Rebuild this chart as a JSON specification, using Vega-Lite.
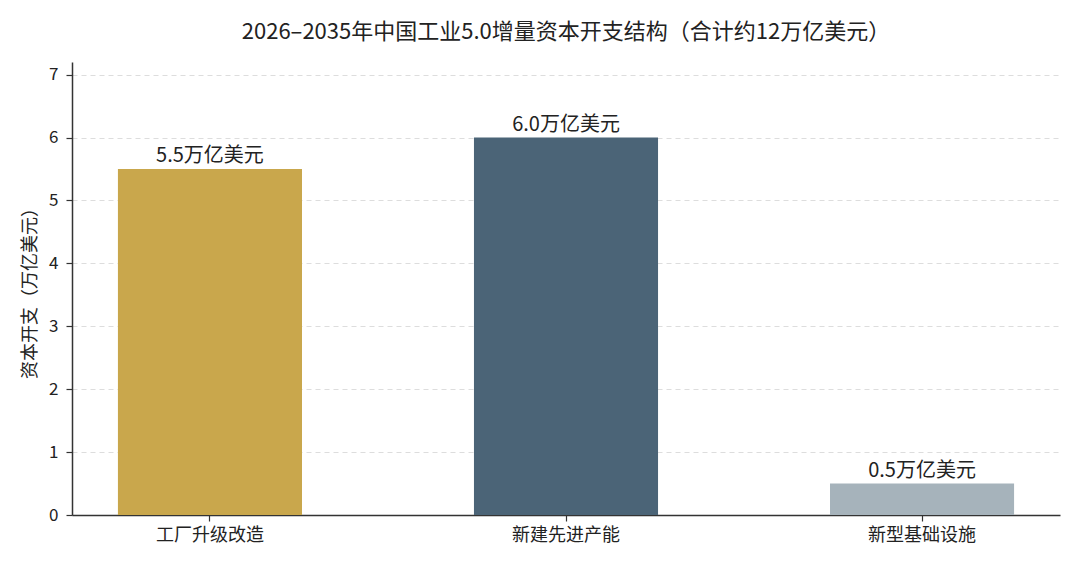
{
  "$schema": "https://vega.github.io/schema/vega-lite/v6.json",
  "autosize": {"type": "none"},
  "padding": {"left": 72, "top": 62, "right": 20, "bottom": 52},
  "width": 988,
  "height": 453,
  "background": "white",
  "title": {
    "text": "2026–2035年中国工业5.0增量资本开支结构（合计约12万亿美元）",
    "font": "Noto Sans CJK SC",
    "fontSize": 22,
    "fontWeight": "normal",
    "color": "#222222",
    "anchor": "middle",
    "frame": "group",
    "offset": 18
  },
  "config": {
    "font": "Noto Sans CJK SC",
    "view": {"stroke": null},
    "axis": {
      "domainColor": "#333333",
      "domainWidth": 1.5,
      "tickColor": "#333333",
      "tickWidth": 1.2,
      "tickSize": 6,
      "labelFont": "Noto Sans CJK SC",
      "labelFontSize": 17,
      "labelColor": "#222222",
      "titleFont": "Noto Sans CJK SC",
      "titleFontSize": 18,
      "titleFontWeight": "normal",
      "titleColor": "#222222"
    }
  },
  "data": {
    "values": [
      {"category": "工厂升级改造", "value": 5.5, "label": "5.5万亿美元"},
      {"category": "新建先进产能", "value": 6.0, "label": "6.0万亿美元"},
      {"category": "新型基础设施", "value": 0.5, "label": "0.5万亿美元"}
    ]
  },
  "encoding": {
    "x": {
      "field": "category",
      "type": "nominal",
      "sort": null,
      "title": null,
      "scale": {"paddingInner": 0.483, "paddingOuter": 0.129},
      "axis": {"labelAngle": 0, "labelPadding": 5, "labelFontSize": 18, "grid": false}
    },
    "y": {
      "field": "value",
      "type": "quantitative",
      "title": "资本开支（万亿美元）",
      "scale": {"domain": [0, 7.2], "nice": false},
      "axis": {
        "values": [0, 1, 2, 3, 4, 5, 6, 7],
        "labelPadding": 8,
        "titlePadding": 9,
        "grid": true,
        "gridColor": "#dddddd",
        "gridDash": [5, 4],
        "gridWidth": 1
      }
    }
  },
  "layer": [
    {
      "mark": {"type": "bar"},
      "encoding": {
        "color": {
          "field": "category",
          "type": "nominal",
          "legend": null,
          "scale": {
            "domain": ["工厂升级改造", "新建先进产能", "新型基础设施"],
            "range": ["#C9A74C", "#4B6477", "#A6B3BB"]
          }
        }
      }
    },
    {
      "mark": {
        "type": "text",
        "baseline": "bottom",
        "dy": -3,
        "fontSize": 20,
        "color": "#222222"
      },
      "encoding": {
        "text": {"field": "label", "type": "nominal"}
      }
    }
  ]
}
